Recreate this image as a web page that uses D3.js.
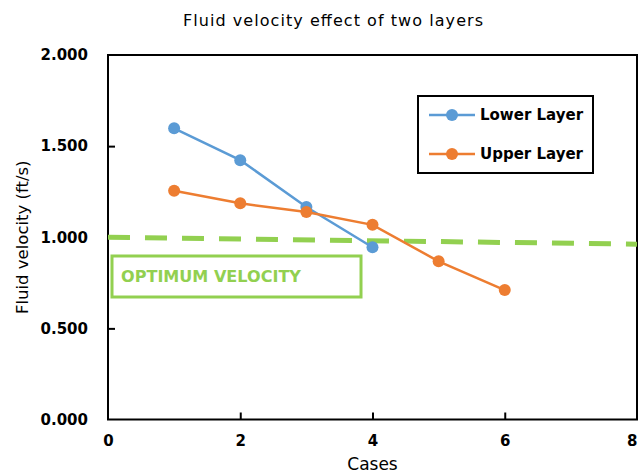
<!DOCTYPE html>
<html>
<head>
<meta charset="utf-8">
<script src="https://cdn.jsdelivr.net/npm/d3@7"></script>
<style>
  body { margin: 0; background: #fff; }
  svg { display: block; font-family: "DejaVu Sans", Verdana, sans-serif; }
</style>
</head>
<body>
<svg id="chart" width="641" height="474"></svg>
<script>
// series data
const cases = [1, 2, 3, 4, 5, 6];
const lowerLayer = [1.598, 1.423, 1.166, 0.945];
const upperLayer = [1.255, 1.186, 1.138, 1.068, 0.868, 0.71];
// optimum velocity reference line (start/end)
const optimumX = [0, 8];
const optimumY = [1.0, 0.962];
const xTicks = [0, 2, 4, 6, 8];
const yTicks = [0, 0.5, 1.0, 1.5, 2.0];

const svg = d3.select("#chart");
const frame = { left: 108, right: 637, top: 55, bottom: 419.5 };

const x = d3.scaleLinear().domain([0, 8]).range([frame.left, frame.right]);
const y = d3.scaleLinear().domain([0, 2]).range([frame.bottom, frame.top]);

// title
svg.append("text")
  .attr("x", 333).attr("y", 26)
  .attr("text-anchor", "middle")
  .attr("font-size", 16)
  .attr("textLength", 300).attr("lengthAdjust", "spacing")
  .text("Fluid velocity effect of two layers");

// axes with inward ticks
const yAxis = svg.append("g")
  .attr("transform", `translate(${frame.left},0)`)
  .call(d3.axisLeft(y).tickValues(yTicks).tickSizeInner(-7).tickSizeOuter(0).tickPadding(20).tickFormat(d3.format(".3f")));
const xAxis = svg.append("g")
  .attr("transform", `translate(0,${frame.bottom})`)
  .call(d3.axisBottom(x).tickValues(xTicks).tickSizeInner(-7).tickSizeOuter(0).tickPadding(16).tickFormat(d3.format("d")));

[yAxis, xAxis].forEach(g => {
  g.select(".domain").remove();
  g.selectAll(".tick line").attr("stroke", "#000").attr("stroke-width", 2);
  g.selectAll(".tick text")
    .attr("font-family", "DejaVu Sans, sans-serif")
    .attr("font-size", 15).attr("font-weight", "bold").attr("fill", "#000");
});
yAxis.selectAll(".tick").filter(d => d === 0 || d === 2).select("line").remove();
xAxis.selectAll(".tick").filter(d => d === 0 || d === 8).select("line").remove();
// keep the last x label inside the canvas
xAxis.selectAll(".tick").filter(d => d === 8).select("text").attr("text-anchor", "end");

// plot frame
svg.append("rect")
  .attr("x", frame.left).attr("y", frame.top)
  .attr("width", frame.right - frame.left).attr("height", frame.bottom - frame.top)
  .attr("fill", "none").attr("stroke", "#000").attr("stroke-width", 2);

// axis titles
svg.append("text")
  .attr("transform", `translate(28,${(frame.top + frame.bottom) / 2}) rotate(-90)`)
  .attr("text-anchor", "middle")
  .attr("font-size", 16.5)
  .text("Fluid velocity (ft/s)");
svg.append("text")
  .attr("x", x(4)).attr("y", 470)
  .attr("text-anchor", "middle")
  .attr("font-size", 17)
  .text("Cases");

// optimum velocity dashed line
svg.append("line")
  .attr("x1", x(optimumX[0])).attr("y1", y(optimumY[0]))
  .attr("x2", x(optimumX[1])).attr("y2", y(optimumY[1]))
  .attr("stroke", "#92D050").attr("stroke-width", 5)
  .attr("stroke-dasharray", "22,15");

// optimum velocity label box
svg.append("rect")
  .attr("x", 112).attr("y", 256).attr("width", 249).attr("height", 41)
  .attr("fill", "#fff").attr("stroke", "#92D050").attr("stroke-width", 3);
svg.append("text")
  .attr("x", 121).attr("y", 282)
  .attr("font-size", 15.5).attr("font-weight", "bold").attr("fill", "#92D050")
  .attr("textLength", 180).attr("lengthAdjust", "spacingAndGlyphs")
  .text("OPTIMUM VELOCITY");

const line = d3.line().x(d => x(d[0])).y(d => y(d[1]));
const series = [
  { name: "Lower Layer", color: "#5B9BD5", values: lowerLayer },
  { name: "Upper Layer", color: "#ED7D31", values: upperLayer }
];

series.forEach(s => {
  const pts = s.values.map((v, i) => [cases[i], v]);
  svg.append("path")
    .attr("d", line(pts))
    .attr("fill", "none").attr("stroke", s.color).attr("stroke-width", 2.5);
  svg.append("g").selectAll("circle").data(pts).join("circle")
    .attr("cx", d => x(d[0])).attr("cy", d => y(d[1])).attr("r", 6)
    .attr("fill", s.color);
});

// legend
const legend = svg.append("g");
legend.append("rect")
  .attr("x", 418).attr("y", 96).attr("width", 175).attr("height", 77)
  .attr("fill", "#fff").attr("stroke", "#000").attr("stroke-width", 2);
series.forEach((s, i) => {
  const ly = 115 + i * 39;
  legend.append("line")
    .attr("x1", 429).attr("x2", 475).attr("y1", ly).attr("y2", ly)
    .attr("stroke", s.color).attr("stroke-width", 2.5);
  legend.append("circle").attr("cx", 452).attr("cy", ly).attr("r", 6).attr("fill", s.color);
  legend.append("text")
    .attr("x", 480).attr("y", ly + 5)
    .attr("font-size", 15).attr("font-weight", "bold")
    .text(s.name);
});
</script>
</body>
</html>
